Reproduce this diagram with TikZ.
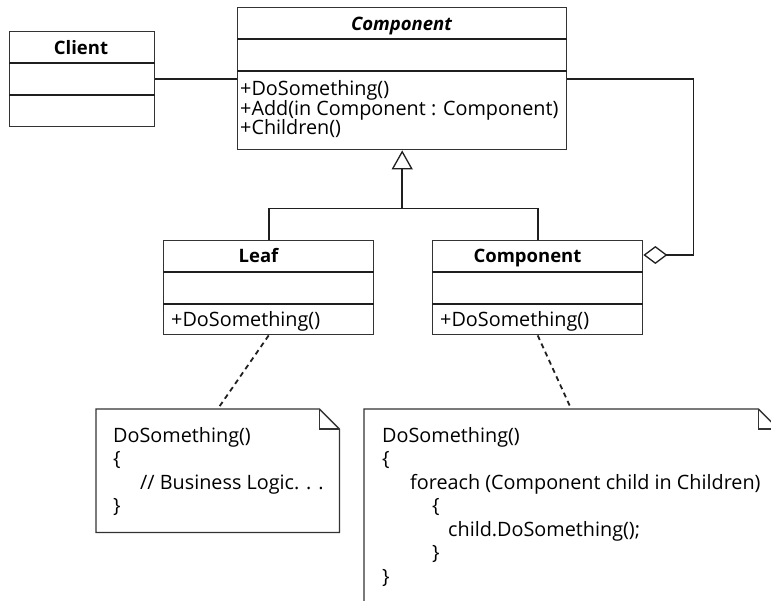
\documentclass[tikz,border=0pt]{standalone}
\usepackage{fontspec}
\setmainfont{Open Sans}
\usetikzlibrary{arrows.meta,calc}
\begin{document}
\begin{tikzpicture}[x=1pt,y=-1pt,
  cls/.style={draw=black!80, line width=1.4pt, fill=white, inner sep=0pt, anchor=north west},
  div/.style={black!88, line width=1.8pt},
  conn/.style={black!88, line width=1.7pt},
  txt/.style={inner sep=0pt, font=\fontsize{19.8}{23}\selectfont, anchor=base west},
  ttl/.style={inner sep=0pt, font=\fontsize{18.5}{22}\selectfont\bfseries, anchor=base},
  notebox/.style={draw=none, inner sep=0pt, anchor=north west},
  noteline/.style={draw=black!80, line width=1.3pt},
  dep/.style={black!88, line width=1.8pt, dash pattern=on 5pt off 4pt},
]
\clip (0,0) rectangle (771,601);

% Client
\node[cls, minimum width=145pt, minimum height=95pt] (client) at (9,31) {};
\draw[div] ($(client.north west)+(0,32)$) -- ($(client.north east)+(0,32)$);
\draw[div] ($(client.north west)+(0,64)$) -- ($(client.north east)+(0,64)$);
\node[ttl] (clientT) at (81,55) {Client};

% Component (abstract)
\node[cls, minimum width=329pt, minimum height=142pt] (comp1) at (237,7) {};
\draw[div] ($(comp1.north west)+(0,32)$) -- ($(comp1.north east)+(0,32)$);
\draw[div] ($(comp1.north west)+(0,64)$) -- ($(comp1.north east)+(0,64)$);
\node[ttl, font=\fontsize{18.5}{22}\selectfont\bfseries\itshape] (comp1T) at (401.5,30.5) {Component};
\node[txt] (m1) at (240,96) {+DoSomething()};
\node[txt] (m2) at (240,115.5) {+Add(in Component : Component)};
\node[txt] (m3) at (240,135) {+Children()};

% Leaf
\node[cls, minimum width=210pt, minimum height=94pt] (leaf) at (163,240) {};
\draw[div] ($(leaf.north west)+(0,32)$) -- ($(leaf.north east)+(0,32)$);
\draw[div] ($(leaf.north west)+(0,64)$) -- ($(leaf.north east)+(0,64)$);
\node[ttl] (leafT) at (258.5,263) {Leaf};
\node[txt] (leafM) at (171,327) {+DoSomething()};

% Component (composite)
\node[cls, minimum width=210pt, minimum height=94pt] (comp2) at (432,240) {};
\draw[div] ($(comp2.north west)+(0,32)$) -- ($(comp2.north east)+(0,32)$);
\draw[div] ($(comp2.north west)+(0,64)$) -- ($(comp2.north east)+(0,64)$);
\node[ttl] (comp2T) at (527.5,263) {Component};
\node[txt] (comp2M) at (440,327) {+DoSomething()};

% Client association
\draw[conn] (client.east) -- (client.east -| comp1.west);

% Generalization
\coordinate (j) at ($(comp1.south)+(0,58)$);
\draw[conn, -{Triangle[open,length=19pt,width=21pt,line width=1.3pt]}] (j) -- (comp1.south);
\draw[conn] (leaf.north) |- (j) -| (comp2.north);

% Aggregation
\coordinate (agg) at ($(comp2.north east)+(0,15)$);
\draw[conn, {Diamond[open,length=24pt,width=18pt,line width=1.3pt]}-] (agg) -- ++(50,0) |- (client.east -| comp1.east);

% Notes
\node[notebox, minimum width=243pt, minimum height=123pt] (noteL) at (96,409) {};
\draw[noteline, fill=white] (noteL.north west) -- ($(noteL.north east)+(-20,0)$) -- ($(noteL.north east)+(0,20)$) -- (noteL.south east) -- (noteL.south west) -- cycle;
\draw[noteline] ($(noteL.north east)+(-20,0)$) -- ++(0,20) -- ++(20,0);

\node[notebox, minimum width=414pt, minimum height=205pt] (noteR) at (364,409) {};
\draw[noteline, fill=white] (noteR.north west) -- ($(noteR.north east)+(-20,0)$) -- ($(noteR.north east)+(0,20)$) -- (noteR.south east) -- (noteR.south west) -- cycle;
\draw[noteline] ($(noteR.north east)+(-20,0)$) -- ++(0,20) -- ++(20,0);

\draw[dep] (leaf.south) -- (noteL.north);
\draw[dep] (comp2.south) -- (noteR.north);

% Note texts
\node[txt] (l1) at (113,442) {DoSomething()};
\node[txt] (l2) at (113,465.5) {\{};
\node[txt] (l3) at (140,489) {// Business Logic. . .};
\node[txt] (l4) at (113,512.5) {\}};

\node[txt] (r1) at (382,442) {DoSomething()};
\node[txt] (r2) at (382,465.5) {\{};
\node[txt] (r3) at (410,489) {foreach (Component child in Children)};
\node[txt] (r4) at (432,512.5) {\{};
\node[txt] (r5) at (448,536) {child.DoSomething();};
\node[txt] (r6) at (432,559.5) {\}};
\node[txt] (r7) at (382,583) {\}};
\end{tikzpicture}
\end{document}
